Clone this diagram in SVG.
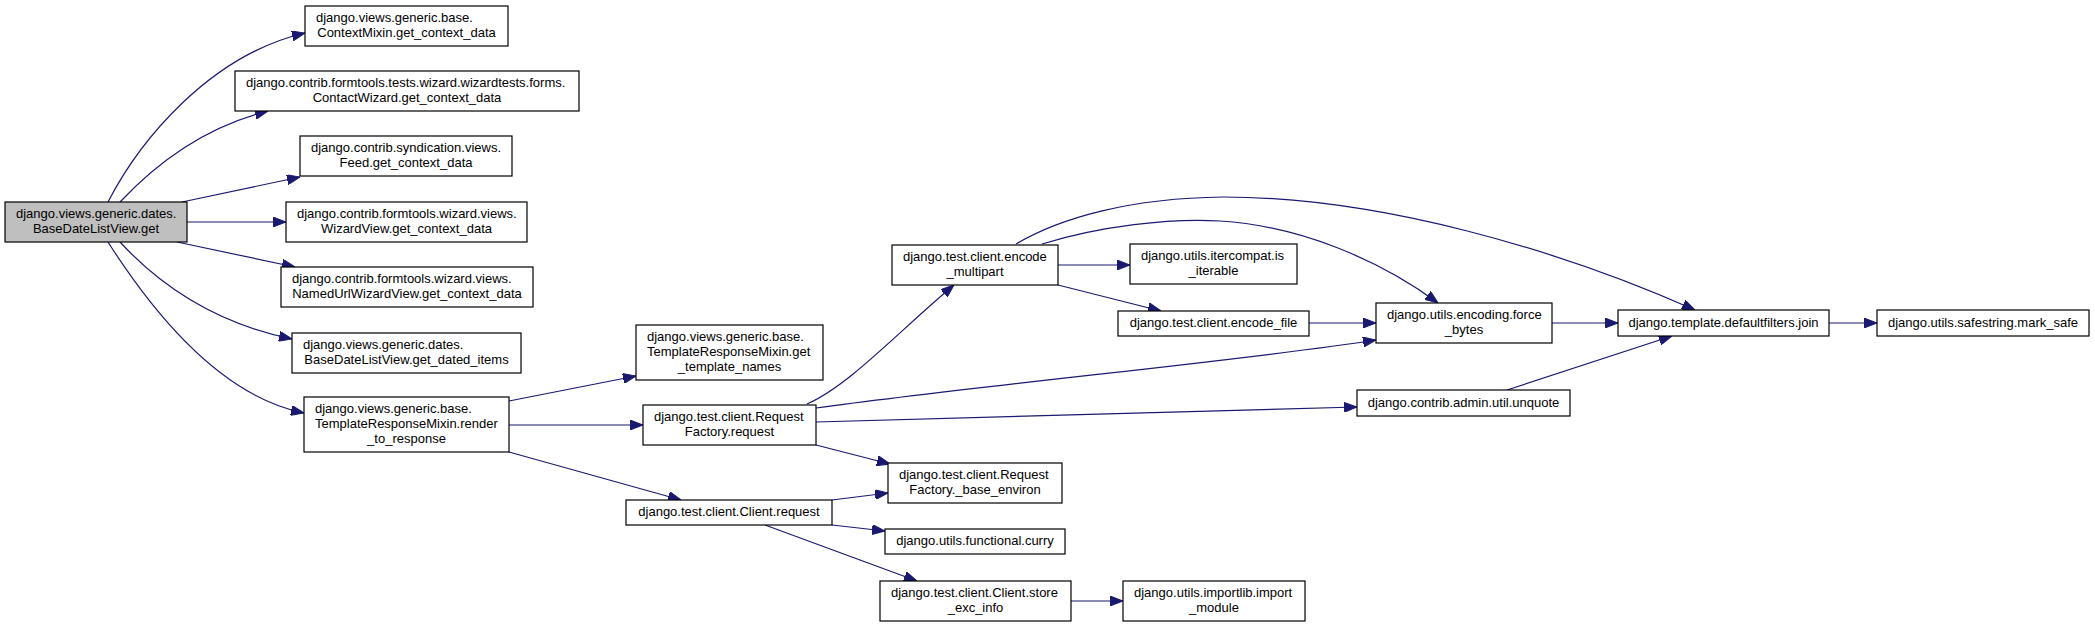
<svg xmlns="http://www.w3.org/2000/svg" width="2095" height="627" viewBox="0 0 2095 627">
<style>
.n rect{fill:#fff;stroke:#000;stroke-width:1.2}
.root rect{fill:#bfbfbf}
text{font-family:"Liberation Sans",Arial,sans-serif;font-size:13px;fill:#000}
.m{text-anchor:middle}
.s{text-anchor:start}
.e path{fill:none;stroke:#191970;stroke-width:1.2;marker-end:url(#ah)}
</style>
<defs>
<marker id="ah" markerUnits="userSpaceOnUse" markerWidth="13" markerHeight="10" viewBox="0 0 13 10" refX="13" refY="5" orient="auto">
<path d="M0,0 L13,5 L0,10 z" fill="#191970" stroke="#191970"/>
</marker>
</defs>
<rect width="2095" height="627" fill="#fff"/>
<g id="edges" class="e">
<path d="M108,202 C140,140 210,55 305,33"/>
<path d="M120,202 C150,170 200,128 268,111"/>
<path d="M182,202 L300,177"/>
<path d="M187,222 L286,222"/>
<path d="M177,242 L295,267"/>
<path d="M120,242 C155,280 210,322 292,339"/>
<path d="M108,242 C145,300 215,395 304,413"/>
<path d="M509,401 L636,376"/>
<path d="M509,425 L643,425"/>
<path d="M509,452 L681,500"/>
<path d="M807,404 C850,385 900,330 954,285"/>
<path d="M816,408 C1000,383 1250,360 1376,340"/>
<path d="M816,422 L1357,407"/>
<path d="M816,445 L890,464"/>
<path d="M832,500 L888,493"/>
<path d="M832,525 L885,531"/>
<path d="M765,525 L917,581"/>
<path d="M1071,601 L1123,601"/>
<path d="M1058,265 L1130,265"/>
<path d="M1058,285 L1161,311"/>
<path d="M1042,244 C1100,226 1170,218 1220,221 C1300,226 1380,260 1438,303"/>
<path d="M1016,244 C1060,218 1130,198 1223,197 C1380,197 1560,250 1695,310"/>
<path d="M1309,323 L1376,323"/>
<path d="M1552,323 L1618,323"/>
<path d="M1507,390 L1672,336"/>
<path d="M1829,323 L1877,323"/>
</g>
<g id="n_root" class="n root"><rect x="5" y="202" width="182" height="40"/><text class="s" x="16" y="218">django.views.generic.dates.</text><text class="m" x="96" y="233">BaseDateListView.get</text></g>
<g id="n_ctx" class="n"><rect x="305" y="6" width="203" height="40"/><text class="s" x="316" y="22">django.views.generic.base.</text><text class="m" x="406.5" y="37">ContextMixin.get_context_data</text></g>
<g id="n_contact" class="n"><rect x="235" y="71" width="344" height="40"/><text class="s" x="246" y="87">django.contrib.formtools.tests.wizard.wizardtests.forms.</text><text class="m" x="407" y="102">ContactWizard.get_context_data</text></g>
<g id="n_feed" class="n"><rect x="300" y="136" width="212" height="40"/><text class="s" x="311" y="152">django.contrib.syndication.views.</text><text class="m" x="406" y="167">Feed.get_context_data</text></g>
<g id="n_wizard" class="n"><rect x="286" y="202" width="241" height="40"/><text class="s" x="297" y="218">django.contrib.formtools.wizard.views.</text><text class="m" x="406.5" y="233">WizardView.get_context_data</text></g>
<g id="n_named" class="n"><rect x="281" y="267" width="252" height="40"/><text class="s" x="292" y="283">django.contrib.formtools.wizard.views.</text><text class="m" x="407" y="298">NamedUrlWizardView.get_context_data</text></g>
<g id="n_dated" class="n"><rect x="292" y="333" width="229" height="40"/><text class="s" x="303" y="349">django.views.generic.dates.</text><text class="m" x="406.5" y="364">BaseDateListView.get_dated_items</text></g>
<g id="n_render" class="n"><rect x="304" y="397" width="205" height="55"/><text class="s" x="315" y="413">django.views.generic.base.</text><text class="s" x="315" y="428">TemplateResponseMixin.render</text><text class="m" x="406.5" y="443">_to_response</text></g>
<g id="n_tmpl" class="n"><rect x="636" y="325" width="187" height="55"/><text class="s" x="647" y="341">django.views.generic.base.</text><text class="s" x="647" y="356">TemplateResponseMixin.get</text><text class="m" x="729.5" y="371">_template_names</text></g>
<g id="n_rfreq" class="n"><rect x="643" y="405" width="173" height="40"/><text class="s" x="654" y="421">django.test.client.Request</text><text class="m" x="729.5" y="436">Factory.request</text></g>
<g id="n_multipart" class="n"><rect x="892" y="245" width="166" height="40"/><text class="s" x="903" y="261">django.test.client.encode</text><text class="m" x="975" y="276">_multipart</text></g>
<g id="n_baseenv" class="n"><rect x="888" y="463" width="174" height="40"/><text class="s" x="899" y="479">django.test.client.Request</text><text class="m" x="975" y="494">Factory._base_environ</text></g>
<g id="n_clreq" class="n"><rect x="626" y="500" width="206" height="25"/><text class="m" x="729" y="516">django.test.client.Client.request</text></g>
<g id="n_curry" class="n"><rect x="885" y="529" width="180" height="25"/><text class="m" x="975" y="545">django.utils.functional.curry</text></g>
<g id="n_store" class="n"><rect x="880" y="581" width="191" height="40"/><text class="s" x="891" y="597">django.test.client.Client.store</text><text class="m" x="975.5" y="612">_exc_info</text></g>
<g id="n_import" class="n"><rect x="1123" y="581" width="182" height="40"/><text class="s" x="1134" y="597">django.utils.importlib.import</text><text class="m" x="1214" y="612">_module</text></g>
<g id="n_iter" class="n"><rect x="1130" y="244" width="167" height="40"/><text class="s" x="1141" y="260">django.utils.itercompat.is</text><text class="m" x="1213.5" y="275">_iterable</text></g>
<g id="n_efile" class="n"><rect x="1118" y="311" width="191" height="25"/><text class="m" x="1213.5" y="327">django.test.client.encode_file</text></g>
<g id="n_force" class="n"><rect x="1376" y="303" width="176" height="40"/><text class="s" x="1387" y="319">django.utils.encoding.force</text><text class="m" x="1464" y="334">_bytes</text></g>
<g id="n_unquote" class="n"><rect x="1357" y="390" width="213" height="26"/><text class="m" x="1463.5" y="407">django.contrib.admin.util.unquote</text></g>
<g id="n_join" class="n"><rect x="1618" y="310" width="211" height="26"/><text class="m" x="1723.5" y="327">django.template.defaultfilters.join</text></g>
<g id="n_mark" class="n"><rect x="1877" y="310" width="212" height="26"/><text class="m" x="1983" y="327">django.utils.safestring.mark_safe</text></g>
</svg>
